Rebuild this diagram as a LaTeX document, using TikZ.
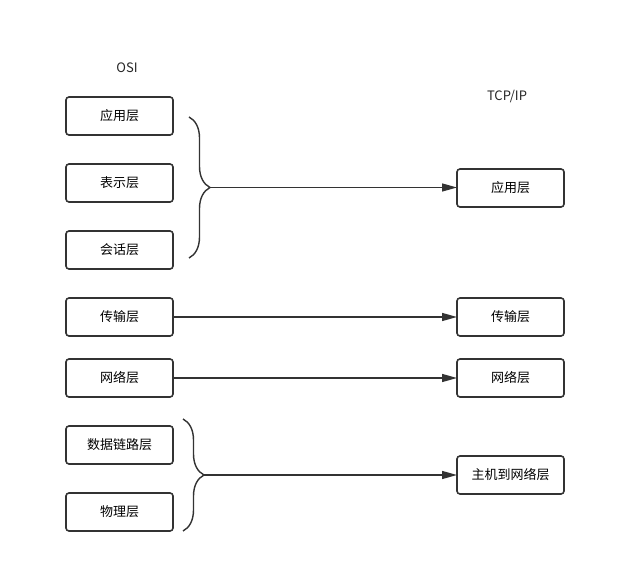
\documentclass[tikz,border=0pt]{standalone}
\usepackage{fontspec}
\setmainfont{Noto Sans CJK SC}
\usepackage{tikz}
\usetikzlibrary{arrows.meta,positioning,decorations.pathreplacing}

\begin{document}
\begin{tikzpicture}[
    x=1pt, y=1pt,
    node distance=29pt,
    layer/.style={rectangle, draw=black!80, line width=1.6pt, rounded corners=3pt, outer sep=0pt,
                  minimum height=38pt, minimum width=107pt, font=\fontsize{13}{15}\selectfont},
    title/.style={font=\fontsize{13}{15}\selectfont, text=black!85},
    arrow/.style={-{Triangle[length=15pt,width=8pt]}, line width=1.4pt, draw=black!80},
    curly/.style={decorate, decoration={brace, amplitude=21pt, aspect=0.5},
                  line width=1.4pt, draw=black!80}
]
\useasboundingbox (0,0) rectangle (619,563);

% OSI
\node[title] (osi) at (127,495) {OSI};
\node[layer] (app)  at (119.5,447) {应用层};
\node[layer, below=of app]  (pres) {表示层};
\node[layer, below=of pres] (sess) {会话层};
\node[layer, below=of sess] (trans) {传输层};
\node[layer, below=23pt of trans] (net) {网络层};
\node[layer, below=of net]  (link) {数据链路层};
\node[layer, below=of link] (phys) {物理层};

% TCP/IP
\node[title] (tcpip) at (507,466) {TCP/IP};
\node[layer] (tapp)  at (510.5,375) {应用层};
\node[layer] (ttrans) at (510.5,246) {传输层};
\node[layer] (tnet)  at (510.5,185) {网络层};
\node[layer] (thost) at (510.5,88) {主机到网络层};

% braces
\coordinate (b1top) at (189,446);
\coordinate (b1bot) at (189,305);
\coordinate (b1tip) at (210,375.5);
\coordinate (b2top) at (183,144);
\coordinate (b2bot) at (183,32);
\coordinate (b2tip) at (204,88);
\draw[curly] (b1top) -- (b1bot);
\draw[curly] (b2top) -- (b2bot);

\draw[arrow] (b1tip) -- (tapp.west |- b1tip);
\draw[arrow] (trans) -- (ttrans);
\draw[arrow] (net)   -- (tnet);
\draw[arrow] (b2tip) -- (thost.west |- b2tip);
\end{tikzpicture}
\end{document}
